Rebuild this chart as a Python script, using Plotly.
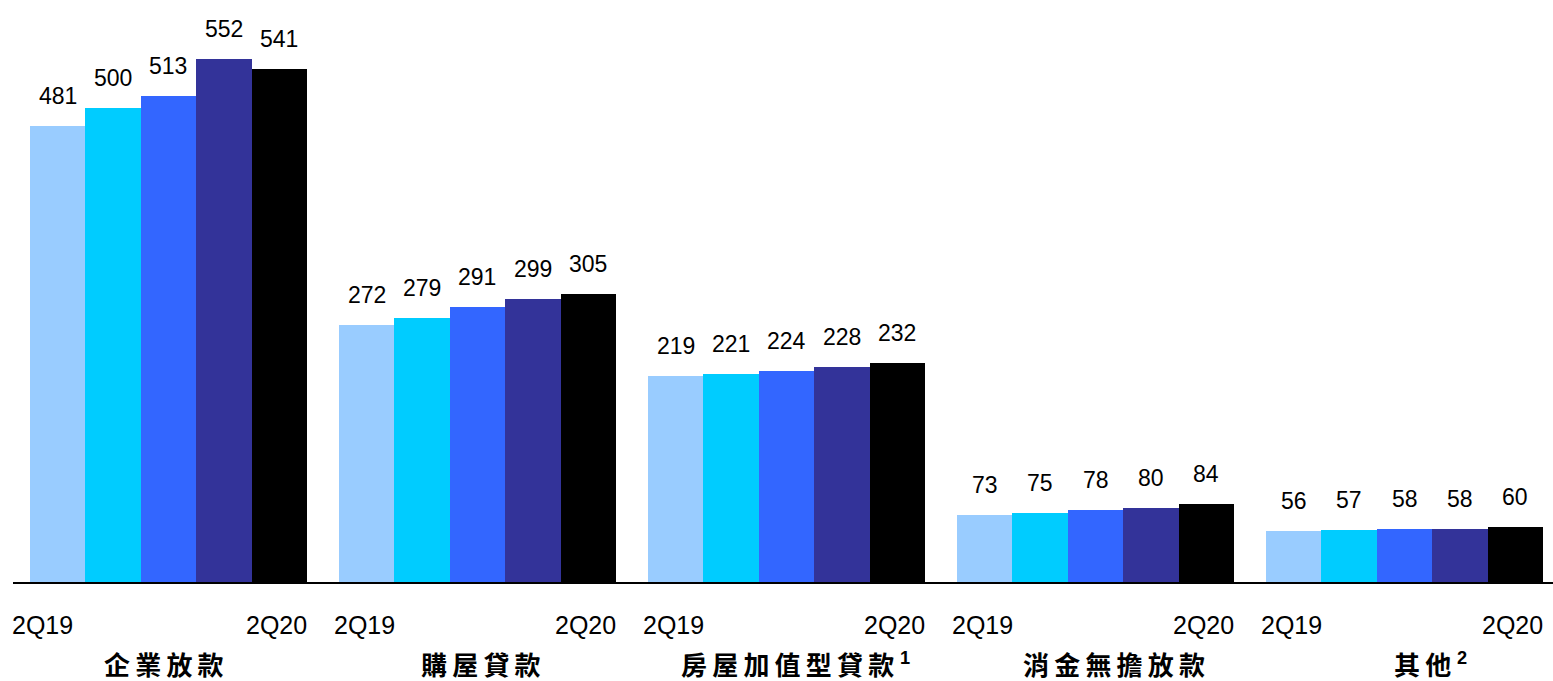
import plotly.graph_objects as go

# Loan balances by segment, five quarters 2Q19 -> 2Q20
categories = ["企業放款", "購屋貸款", "房屋加值型貸款", "消金無擔放款", "其他"]
footnotes = ["", "", "1", "", "2"]
quarters = ["2Q19", "3Q19", "4Q19", "1Q20", "2Q20"]
values = {
    "2Q19": [481, 272, 219, 73, 56],
    "3Q19": [500, 279, 221, 75, 57],
    "4Q19": [513, 291, 224, 78, 58],
    "1Q20": [552, 299, 228, 80, 58],
    "2Q20": [541, 305, 232, 84, 60],
}
first_tick = "2Q19"
last_tick = "2Q20"

colors = ["#99CCFF", "#00CCFF", "#3366FF", "#333399", "#000000"]

W, H = 1553, 681
PERIOD = 5.58          # group pitch in bar widths
UNIT = 55.38           # pixels per bar width
LEFT_PX = 30
BASE_PX = 584
PX_PER_VAL = 0.952

x0 = -LEFT_PX / UNIT
x1 = x0 + W / UNIT
y_top = BASE_PX / PX_PER_VAL

LATIN = "Liberation Sans, Arial, sans-serif"
CJK = "Noto Sans CJK TC"

fig = go.Figure()
annotations = []
for i, q in enumerate(quarters):
    xs = [g * PERIOD + i + 0.5 for g in range(len(categories))]
    fig.add_trace(go.Bar(
        x=xs, y=values[q], width=1.0, name=q,
        marker=dict(color=colors[i], line=dict(width=0)),
        showlegend=False, hoverinfo="skip",
    ))
    for x, v in zip(xs, values[q]):
        annotations.append(dict(
            x=x, y=v, xref="x", yref="y", text=str(v), showarrow=False,
            yanchor="bottom", yshift=15,
            font=dict(family=LATIN, size=23, color="#000"),
        ))

label_shift = [-4, 4, 9, 18, 26]
for g, cat in enumerate(categories):
    left = g * PERIOD
    right = g * PERIOD + 5
    annotations.append(dict(
        x=left, y=0, xref="x", yref="y", text=first_tick, showarrow=False,
        xanchor="left", yanchor="middle", yshift=-41, xshift=-20 if g == 0 else -7,
        font=dict(family=LATIN, size=25, color="#000"),
    ))
    annotations.append(dict(
        x=right, y=0, xref="x", yref="y", text=last_tick, showarrow=False,
        xanchor="right", yanchor="middle", yshift=-41, xshift=2,
        font=dict(family=LATIN, size=25, color="#000"),
    ))
    label = "<b>" + "\u2009".join(cat) + "</b>"
    if footnotes[g]:
        label += " <sup><b><span style='font-family:Liberation Sans'>" + footnotes[g] + "</span></b></sup>"
    annotations.append(dict(
        x=(left + right) / 2, y=0, xref="x", yref="y", text=label,
        showarrow=False, xanchor="center", yanchor="middle", yshift=-79,
        xshift=label_shift[g],
        font=dict(family=CJK, size=26, color="#000"),
    ))

fig.update_layout(
    width=W, height=H,
    margin=dict(l=0, r=0, t=0, b=H - BASE_PX),
    paper_bgcolor="white", plot_bgcolor="white",
    barmode="overlay", bargap=0,
    xaxis=dict(range=[x0, x1], visible=False, fixedrange=True),
    yaxis=dict(range=[0, y_top], visible=False, fixedrange=True),
    annotations=annotations,
    shapes=[dict(
        type="line", xref="paper", yref="y",
        x0=13 / W, x1=1.0, y0=0, y1=0,
        line=dict(color="#000", width=4),
    )],
)

fig.write_html("out.html", config={"displayModeBar": False})
